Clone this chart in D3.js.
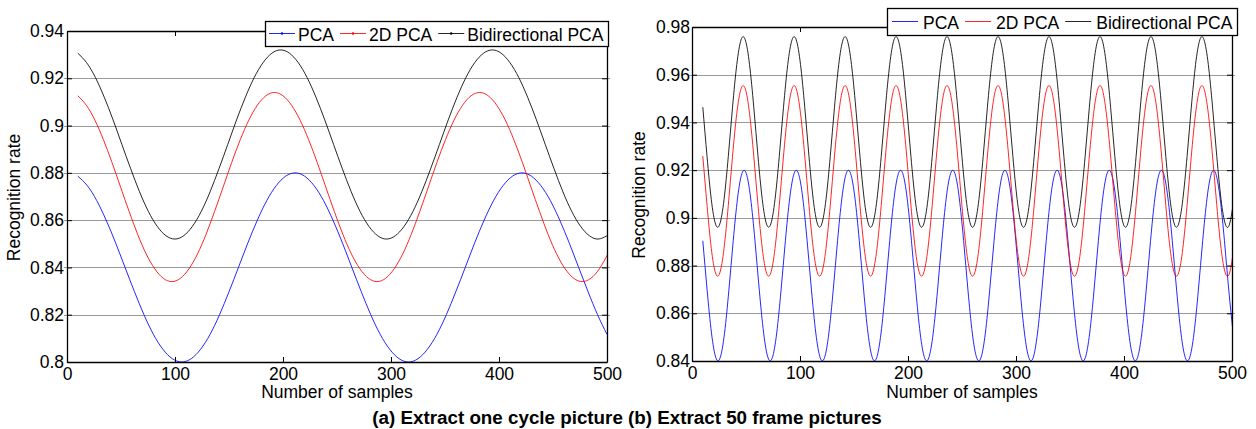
<!DOCTYPE html>
<html><head><meta charset="utf-8">
<script src="https://cdn.jsdelivr.net/npm/d3@7"></script>
<style>
body{margin:0;background:#fff}
svg{display:block}
text{font-family:"Liberation Sans",Arial,Helvetica,sans-serif;fill:#000}
</style></head>
<body><svg id="chart" width="1256" height="429"></svg>
<script>
// ---------- data ----------
const seriesNames = ["PCA", "2D PCA", "Bidirectional PCA"];
const xTickValues = [0, 100, 200, 300, 400, 500];
const leftYTicks = [0.8, 0.82, 0.84, 0.86, 0.88, 0.9, 0.92, 0.94];
const rightYTicks = [0.84, 0.86, 0.88, 0.9, 0.92, 0.94, 0.96, 0.98];
const xTitle = "Number of samples";
const yTitle = "Recognition rate";
const caption = "(a) Extract one cycle picture (b) Extract 50 frame pictures";

// sample positions: first sample and spacing (number of samples) per series
const firstSample = 10;
const leftSpacing = [8.75, 7.9167, 8.1667];
const rightSpacing = [4.025, 3.9333, 3.9333];

// (a) Extract one cycle picture
const leftPCA = [
0.8786,0.8746,0.8683,0.86,0.8504,0.84,0.8297,0.82,0.8117,0.8054,0.8014,0.8,0.8014,0.8054,0.8117,0.82,0.8297,0.84,0.8504,0.86,0.8683,0.8746,0.8786,0.88,
0.8786,0.8746,0.8683,0.86,0.8504,0.84,0.8297,0.82,0.8117,0.8054,0.8014,0.8,0.8014,0.8054,0.8117,0.82,0.8297,0.84,0.8504,0.86,0.8683,0.8746,0.8786,0.88,
0.8786,0.8746,0.8683,0.86,0.8504,0.84,0.8297,0.82,0.8117];
const left2DPCA = [
0.9126,0.9086,0.9023,0.894,0.8844,0.874,0.8637,0.854,0.8457,0.8394,0.8354,0.834,0.8354,0.8394,0.8457,0.854,0.8637,0.874,0.8844,0.894,0.9023,0.9086,0.9126,0.914,
0.9126,0.9086,0.9023,0.894,0.8844,0.874,0.8637,0.854,0.8457,0.8394,0.8354,0.834,0.8354,0.8394,0.8457,0.854,0.8637,0.874,0.8844,0.894,0.9023,0.9086,0.9126,0.914,
0.9126,0.9086,0.9023,0.894,0.8844,0.874,0.8637,0.854,0.8457,0.8394,0.8354,0.834,0.8354,0.8394,0.8457];
const leftBiPCA = [
0.9306,0.9266,0.9203,0.912,0.9024,0.892,0.8817,0.872,0.8637,0.8574,0.8534,0.852,0.8534,0.8574,0.8637,0.872,0.8817,0.892,0.9024,0.912,0.9203,0.9266,0.9306,0.932,
0.9306,0.9266,0.9203,0.912,0.9024,0.892,0.8817,0.872,0.8637,0.8574,0.8534,0.852,0.8534,0.8574,0.8637,0.872,0.8817,0.892,0.9024,0.912,0.9203,0.9266,0.9306,0.932,
0.9306,0.9266,0.9203,0.912,0.9024,0.892,0.8817,0.872,0.8637,0.8574,0.8534,0.852,0.8534];

// (b) Extract 50 frame pictures
const rightPCA = [
0.8904,0.8697,0.8517,0.8414,0.8414,0.8517,0.8697,0.8904,0.9083,0.9186,0.9186,0.9083,
0.8904,0.8697,0.8517,0.8414,0.8414,0.8517,0.8697,0.8904,0.9083,0.9186,0.9186,0.9083,
0.8904,0.8697,0.8517,0.8414,0.8414,0.8517,0.8697,0.8904,0.9083,0.9186,0.9186,0.9083,
0.8904,0.8697,0.8517,0.8414,0.8414,0.8517,0.8697,0.8904,0.9083,0.9186,0.9186,0.9083,
0.8904,0.8697,0.8517,0.8414,0.8414,0.8517,0.8697,0.8904,0.9083,0.9186,0.9186,0.9083,
0.8904,0.8697,0.8517,0.8414,0.8414,0.8517,0.8697,0.8904,0.9083,0.9186,0.9186,0.9083,
0.8904,0.8697,0.8517,0.8414,0.8414,0.8517,0.8697,0.8904,0.9083,0.9186,0.9186,0.9083,
0.8904,0.8697,0.8517,0.8414,0.8414,0.8517,0.8697,0.8904,0.9083,0.9186,0.9186,0.9083,
0.8904,0.8697,0.8517,0.8414,0.8414,0.8517,0.8697,0.8904,0.9083,0.9186,0.9186,0.9083,
0.8904,0.8697,0.8517,0.8414,0.8414,0.8517,0.8697,0.8904,0.9083,0.9186,0.9186,0.9083,
0.8904,0.8697,0.8517];
const right2DPCA = [
0.9259,0.9052,0.8872,0.8769,0.8769,0.8872,0.9052,0.9259,0.9438,0.9541,0.9541,0.9438,
0.9259,0.9052,0.8872,0.8769,0.8769,0.8872,0.9052,0.9259,0.9438,0.9541,0.9541,0.9438,
0.9259,0.9052,0.8872,0.8769,0.8769,0.8872,0.9052,0.9259,0.9438,0.9541,0.9541,0.9438,
0.9259,0.9052,0.8872,0.8769,0.8769,0.8872,0.9052,0.9259,0.9438,0.9541,0.9541,0.9438,
0.9259,0.9052,0.8872,0.8769,0.8769,0.8872,0.9052,0.9259,0.9438,0.9541,0.9541,0.9438,
0.9259,0.9052,0.8872,0.8769,0.8769,0.8872,0.9052,0.9259,0.9438,0.9541,0.9541,0.9438,
0.9259,0.9052,0.8872,0.8769,0.8769,0.8872,0.9052,0.9259,0.9438,0.9541,0.9541,0.9438,
0.9259,0.9052,0.8872,0.8769,0.8769,0.8872,0.9052,0.9259,0.9438,0.9541,0.9541,0.9438,
0.9259,0.9052,0.8872,0.8769,0.8769,0.8872,0.9052,0.9259,0.9438,0.9541,0.9541,0.9438,
0.9259,0.9052,0.8872,0.8769,0.8769,0.8872,0.9052,0.9259,0.9438,0.9541,0.9541,0.9438,
0.9259,0.9052,0.8872,0.8769,0.8769,0.8872];
const rightBiPCA = [
0.9464,0.9257,0.9077,0.8974,0.8974,0.9077,0.9257,0.9464,0.9643,0.9746,0.9746,0.9643,
0.9464,0.9257,0.9077,0.8974,0.8974,0.9077,0.9257,0.9464,0.9643,0.9746,0.9746,0.9643,
0.9464,0.9257,0.9077,0.8974,0.8974,0.9077,0.9257,0.9464,0.9643,0.9746,0.9746,0.9643,
0.9464,0.9257,0.9077,0.8974,0.8974,0.9077,0.9257,0.9464,0.9643,0.9746,0.9746,0.9643,
0.9464,0.9257,0.9077,0.8974,0.8974,0.9077,0.9257,0.9464,0.9643,0.9746,0.9746,0.9643,
0.9464,0.9257,0.9077,0.8974,0.8974,0.9077,0.9257,0.9464,0.9643,0.9746,0.9746,0.9643,
0.9464,0.9257,0.9077,0.8974,0.8974,0.9077,0.9257,0.9464,0.9643,0.9746,0.9746,0.9643,
0.9464,0.9257,0.9077,0.8974,0.8974,0.9077,0.9257,0.9464,0.9643,0.9746,0.9746,0.9643,
0.9464,0.9257,0.9077,0.8974,0.8974,0.9077,0.9257,0.9464,0.9643,0.9746,0.9746,0.9643,
0.9464,0.9257,0.9077,0.8974,0.8974,0.9077,0.9257,0.9464,0.9643,0.9746,0.9746,0.9643,
0.9464,0.9257,0.9077,0.8974,0.8974,0.9077];

// ---------- drawing ----------
const colors = ["#0000ff", "#ff0000", "#000000"];
const FS = 17.5;
const svg = d3.select("#chart");

function drawPanel(cfg) {
  const x = d3.scaleLinear().domain([0, 500]).range([cfg.left, cfg.right]);
  const y = d3.scaleLinear().domain([cfg.yTicks[0], cfg.yTicks[cfg.yTicks.length - 1]]).range([cfg.bottom, cfg.top]);
  const g = svg.append("g");

  // grid
  g.append("g").selectAll("line").data(cfg.yTicks.slice(1, -1)).join("line")
    .attr("x1", cfg.left - 3).attr("x2", cfg.right + 3)
    .attr("y1", d => Math.round(y(d)) + 0.5).attr("y2", d => Math.round(y(d)) + 0.5)
    .attr("stroke", "#9a9a9a").attr("stroke-width", 1);

  // clip
  svg.append("clipPath").attr("id", cfg.id).append("rect")
    .attr("x", cfg.left).attr("y", cfg.top).attr("width", cfg.right - cfg.left).attr("height", cfg.bottom - cfg.top);

  const line = d3.line().curve(d3.curveNatural)
    .x(d => x(d[0])).y(d => y(d[1]));
  cfg.series.forEach((vals, i) => {
    const pts = vals.map((v, k) => [firstSample + k * cfg.spacing[i], v]);
    g.append("path").datum(pts).attr("d", line)
      .attr("clip-path", `url(#${cfg.id})`)
      .attr("fill", "none").attr("stroke", colors[i]).attr("stroke-width", 1)
      .attr("stroke-opacity", 0.85);
  });

  // axes
  const fmt = d => String(+d.toFixed(2));
  const styleAxis = sel => {
    sel.selectAll("path.domain").attr("stroke", "#000").attr("stroke-width", 1.3);
    sel.selectAll(".tick line").attr("stroke", "#000").attr("stroke-width", 1);
    sel.selectAll("text").attr("font-size", FS).attr("fill", "#000")
      .attr("font-family", '"Liberation Sans", Arial, sans-serif');
    sel.attr("font-size", null).attr("font-family", null);
  };
  g.append("g").attr("transform", `translate(0,${cfg.bottom})`)
    .call(d3.axisBottom(x).tickValues(xTickValues).tickSizeInner(-5).tickSizeOuter(0).tickPadding(6))
    .call(styleAxis);
  g.append("g").attr("transform", `translate(0,${cfg.top})`)
    .call(d3.axisTop(x).tickValues(xTickValues).tickSizeInner(-5).tickSizeOuter(0).tickFormat(""))
    .call(styleAxis);
  g.append("g").attr("transform", `translate(${cfg.left},0)`)
    .call(d3.axisLeft(y).tickValues(cfg.yTicks).tickSizeInner(-5).tickSizeOuter(0).tickPadding(cfg.yPad).tickFormat(fmt))
    .call(styleAxis);
  g.append("g").attr("transform", `translate(${cfg.right},0)`)
    .call(d3.axisRight(y).tickValues(cfg.yTicks).tickSizeInner(-5).tickSizeOuter(0).tickFormat(""))
    .call(styleAxis);

  // titles
  g.append("text").attr("x", (cfg.left + cfg.right) / 2).attr("y", cfg.xTitleY)
    .attr("text-anchor", "middle").attr("font-size", FS).text(xTitle);
  g.append("text").attr("transform", `translate(${cfg.yTitleX},${(cfg.top + cfg.bottom) / 2 + 1}) rotate(-90)`)
    .attr("text-anchor", "middle").attr("font-size", FS).text(yTitle);

  // legend
  const lg = g.append("g");
  const box = lg.append("rect").attr("fill", "#fff").attr("stroke", "#000").attr("stroke-width", 1.3);
  let cx = cfg.legend.x + cfg.legend.pad;
  seriesNames.forEach((name, i) => {
    const ly = cfg.legend.y + cfg.legend.h / 2;
    lg.append("line").attr("x1", cx).attr("x2", cx + 26).attr("y1", ly).attr("y2", ly)
      .attr("stroke", colors[i]).attr("stroke-width", 1).attr("stroke-opacity", 0.85);
    if (cfg.legend.marker) {
      lg.append("circle").attr("cx", cx + 13).attr("cy", ly).attr("r", 1.2).attr("fill", colors[i]);
    }
    const t = lg.append("text").attr("x", cx + 26 + cfg.legend.gap).attr("y", cfg.legend.y + cfg.legend.base)
      .attr("font-size", FS).text(name);
    const w = t.node().getComputedTextLength();
    cx = cx + 26 + cfg.legend.gap + w + 6;
  });
  box.attr("x", cfg.legend.x + 0.5).attr("y", cfg.legend.y + 0.5)
    .attr("width", cfg.legend.w).attr("height", cfg.legend.h);
}

drawPanel({
  id: "clipA", left: 67, right: 607, top: 31, bottom: 362, yTicks: leftYTicks, yPad: 3,
  spacing: leftSpacing, series: [leftPCA, left2DPCA, leftBiPCA],
  xTitleY: 398, yTitleX: 20,
  legend: { x: 265, y: 21, w: 343, h: 25, pad: 4, gap: 3, base: 19.5, marker: true }
});
drawPanel({
  id: "clipB", left: 692, right: 1232, top: 27, bottom: 361, yTicks: rightYTicks, yPad: 2,
  spacing: rightSpacing, series: [rightPCA, right2DPCA, rightBiPCA],
  xTitleY: 398, yTitleX: 645,
  legend: { x: 887, y: 8, w: 350, h: 27, pad: 5, gap: 5, base: 20.5, marker: false }
});

svg.append("text").attr("x", 627).attr("y", 424).attr("text-anchor", "middle")
  .attr("font-size", 18.8).attr("font-weight", "bold").text(caption);
</script></body></html>
